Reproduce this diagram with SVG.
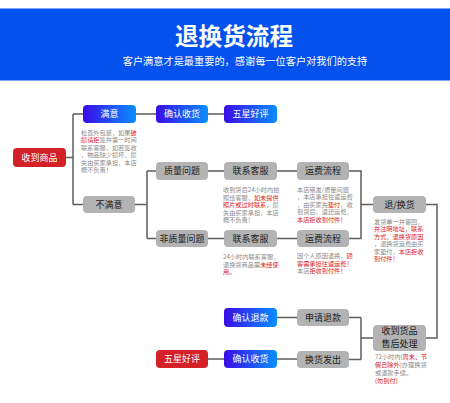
<svg xmlns="http://www.w3.org/2000/svg" width="450" height="403" viewBox="0 0 450 403">
<defs>
<linearGradient id="bg" x1="0" y1="0" x2="1" y2="0">
<stop offset="0" stop-color="#3a0ce6"/>
<stop offset="1" stop-color="#0a8eff"/>
</linearGradient>
<style>
text{font-family:"Noto Sans CJK SC","Noto Sans",sans-serif}
.blue{fill:url(#bg)}
.red{fill:#d42027}
.gray{fill:#b3b3b3}
.lw{fill:#fff;font-size:9px;text-anchor:middle}
.lk{fill:#1a1a1a;font-size:9px;text-anchor:middle}
.s{fill:#8a8a8a;font-size:6.2px}
.r{fill:#e02020}
.c{fill:none;stroke:#5e5e5e;stroke-width:1.5}
</style>
</defs>
<rect width="450" height="403" fill="#fff"/>
<rect x="0" y="8" width="450" height="73" fill="#0451ee"/>
<line x1="0" y1="8.5" x2="450" y2="8.5" stroke="#7aa6ff" stroke-width="1"/>
<line x1="0" y1="80.5" x2="450" y2="80.5" stroke="#7aa6ff" stroke-width="1"/>
<text x="234" y="45" fill="#fff" font-size="23.6" font-weight="bold" text-anchor="middle">退换货流程</text>
<text x="245" y="64.5" fill="#fff" font-size="10.2" text-anchor="middle">客户满意才是最重要的，感谢每一位客户对我们的支持</text>

<g id="connectors" class="c">
<path d="M66,157.5H73M73,114V204.5M73,114H83M73,204.5H83"/>
<path d="M136,114H156M208,114H224"/>
<path d="M135,204.5H147M147,171V238.5M147,171H156M147,238.5H156"/>
<path d="M208,171H224M277,171H297M208,238.5H224M277,238.5H297"/>
<path d="M349,171H361V238.5H349M361,204.5H373"/>
<path d="M426,204.5H437V338H426"/>
<path d="M373,338H361M361,317.5V359.5M361,317.5H349M361,359.5H349"/>
<path d="M277,317.5H297M277,359H297M208,359H224"/>
</g>

<g id="n1"><rect class="red" x="13" y="148" width="53" height="19" rx="4"/><text class="lw" x="39.5" y="160.7">收到商品</text></g>
<g id="n2"><rect class="blue" x="83" y="105" width="53" height="18" rx="4"/><text class="lw" x="109.5" y="117.2">满意</text>
<text class="s" x="81" y="134.5">检查外包装，如果<tspan class="r">破</tspan></text>
<text class="s" x="81" y="142"><tspan class="r">损请拒</tspan>签并第一时间</text>
<text class="s" x="81" y="149.5">联系客服，如若签收</text>
<text class="s" x="81" y="157">，物品缺少损坏，损</text>
<text class="s" x="81" y="164.5">失由买家承担，本店</text>
<text class="s" x="81" y="172">概不负责！</text></g>
<g id="n3"><rect class="blue" x="156" y="105" width="52" height="18" rx="4"/><text class="lw" x="182" y="117.2">确认收货</text></g>
<g id="n4"><rect class="blue" x="224" y="105" width="53" height="18" rx="4"/><text class="lw" x="250.5" y="117.2">五星好评</text></g>
<g id="n5"><rect class="gray" x="83" y="196" width="52" height="17" rx="4"/><text class="lk" x="109" y="207.7">不满意</text></g>
<g id="n6"><rect class="gray" x="156" y="162" width="52" height="18" rx="4"/><text class="lk" x="182" y="174.2">质量问题</text></g>
<g id="n7"><rect class="gray" x="224" y="162" width="53" height="18" rx="4"/><text class="lk" x="250.5" y="174.2">联系客服</text>
<text class="s" x="223" y="192">收到货后24小时内拍</text>
<text class="s" x="223" y="199.5">照给客服，<tspan class="r">如未提供</tspan></text>
<text class="s" x="223" y="207"><tspan class="r">照片或过时联系，</tspan>损</text>
<text class="s" x="223" y="214.5">失由买家承担，本店</text>
<text class="s" x="223" y="222">概不负责！</text></g>
<g id="n8"><rect class="gray" x="297" y="162" width="52" height="18" rx="4"/><text class="lk" x="323" y="174.2">运费流程</text>
<text class="s" x="297" y="191.5">本店错发/质量问题</text>
<text class="s" x="297" y="199">，本店承担往返运费</text>
<text class="s" x="297" y="206.5">，由买家先<tspan class="r">垫付，</tspan>收</text>
<text class="s" x="297" y="214">到货后，返还运费，</text>
<text class="s r" x="297" y="221.5">本店拒收到付件！</text></g>
<g id="n9"><rect class="gray" x="156" y="230" width="52" height="17" rx="4"/><text class="lk" x="182" y="241.7">非质量问题</text></g>
<g id="n10"><rect class="gray" x="224" y="230" width="53" height="17" rx="4"/><text class="lk" x="250.5" y="241.7">联系客服</text>
<text class="s" x="223" y="259">24小时内联系客服，</text>
<text class="s" x="223" y="266.5">退换货商品需<tspan class="r">未经使</tspan></text>
<text class="s r" x="223" y="274">用。</text></g>
<g id="n11"><rect class="gray" x="297" y="230" width="52" height="17" rx="4"/><text class="lk" x="323" y="241.7">运费流程</text>
<text class="s" x="297" y="258">因个人原因退换，<tspan class="r">顾</tspan></text>
<text class="s r" x="297" y="265.5">客需承担往返运费！</text>
<text class="s" x="297" y="273">本店<tspan class="r">拒收到付件！</tspan></text></g>
<g id="n12"><rect class="gray" x="373" y="196" width="53" height="17" rx="4"/><text class="lk" x="399.5" y="207.7">退/换货</text>
<text class="s" x="374" y="223.7">发货单一并寄回，</text>
<text class="s r" x="374" y="231.2">并注明地址，联系</text>
<text class="s r" x="374" y="238.7">方式，退换货原因</text>
<text class="s" x="374" y="246.2">，退换货运费由买</text>
<text class="s" x="374" y="253.7">家垫付，<tspan class="r">本店拒收</tspan></text>
<text class="s r" x="374" y="261.2">到付件！</text></g>
<g id="n13"><rect class="gray" x="373" y="325" width="53" height="26" rx="4"/><text class="lk" x="399.5" y="334" font-size="8.8">收到货品</text><text class="lk" x="399.5" y="346.5" font-size="8.8">售后处理</text>
<text class="s" x="375" y="359.3">72小时内(<tspan class="r">周末、节</tspan></text>
<text class="s" x="375" y="367"><tspan class="r">假日除外</tspan>)办理换货</text>
<text class="s" x="375" y="374.7">或退款手续。</text>
<text class="s r" x="375" y="382.5">(勿到付)</text></g>
<g id="n14"><rect class="gray" x="297" y="309" width="52" height="17" rx="4"/><text class="lk" x="323" y="320.7">申请退款</text></g>
<g id="n15"><rect class="gray" x="297" y="351" width="52" height="17" rx="4"/><text class="lk" x="323" y="362.7">换货发出</text></g>
<g id="n16"><rect class="blue" x="224" y="308" width="53" height="19" rx="4"/><text class="lw" x="250.5" y="320.7">确认退款</text></g>
<g id="n17"><rect class="blue" x="224" y="350" width="53" height="18" rx="4"/><text class="lw" x="250.5" y="362.2">确认收货</text></g>
<g id="n18"><rect class="red" x="156" y="350" width="52" height="18" rx="4"/><text class="lw" x="182" y="362.2">五星好评</text></g>
</svg>
